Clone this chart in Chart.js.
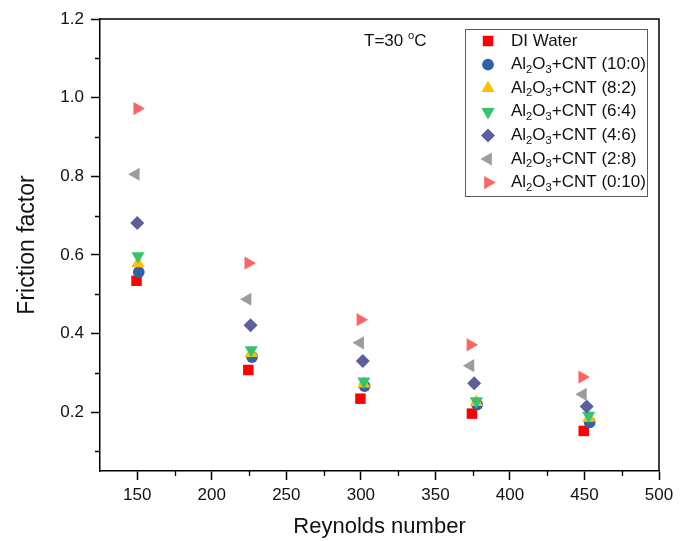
<!DOCTYPE html>
<html><head><meta charset="utf-8">
<script src="https://cdn.jsdelivr.net/npm/chart.js@4/dist/chart.umd.min.js"></script>
<style>html,body{margin:0;padding:0;background:#fff;}#wrap{width:691px;height:541px;}</style>
</head><body><div id="wrap"><canvas id="c" width="691" height="541"></canvas></div>
<script>
// ---- data ----
const reDI   = [149.5, 224.5, 299.7, 374.5, 449.5];
const fDI    = [0.534, 0.307, 0.234, 0.196, 0.152];
const re100  = [151.0, 227.0, 302.5, 378.0, 453.5];
const f100   = [0.556, 0.340, 0.266, 0.219, 0.174];
const re82   = [150.5, 226.5, 302.0, 377.5, 453.0];
const f82    = [0.578, 0.350, 0.272, 0.225, 0.185];
const re64   = [150.5, 226.5, 302.0, 377.5, 452.8];
const f64    = [0.597, 0.358, 0.278, 0.228, 0.191];
const re46   = [150.0, 226.0, 301.3, 376.0, 451.5];
const f46    = [0.681, 0.421, 0.330, 0.273, 0.214];
const re28   = [149.0, 224.0, 299.5, 373.5, 449.0];
const f28    = [0.805, 0.487, 0.376, 0.318, 0.245];
const re010  = [150.0, 224.5, 299.7, 373.5, 448.5];
const f010   = [0.972, 0.579, 0.435, 0.371, 0.289];

const seriesNames = ['DI Water', 'Al₂O₃+CNT (10:0)', 'Al₂O₃+CNT (8:2)', 'Al₂O₃+CNT (6:4)', 'Al₂O₃+CNT (4:6)', 'Al₂O₃+CNT (2:8)', 'Al₂O₃+CNT (0:10)'];
const ratioLabels = [null, '10:0', '8:2', '6:4', '4:6', '2:8', '0:10'];
const xTickValues = [150, 200, 250, 300, 350, 400, 450, 500];
const xMinorValues = [175, 225, 275, 325, 375, 425, 475];
const yTickValues = [0.2, 0.4, 0.6, 0.8, 1.0, 1.2];
const yMinorValues = [0.1, 0.3, 0.5, 0.7, 0.9, 1.1];
const xTitle = 'Reynolds number';
const yTitle = 'Friction factor';

// ---- styles ----
const colors = ['#ff0000', '#3063a5', '#ffc000', '#35c46c', '#5d5e9c', '#9c9c9c', '#ff6464'];
const styles = ['rect', 'circle', 'triangle', 'triangle', 'rectRot', 'triangle', 'triangle'];
const rotations = [0, 0, 0, 180, 0, 270, 90];
const radii = [7.4, 5.9, 7.6, 7.6, 7.0, 7.6, 7.6];
const FONT = '"Liberation Sans", Arial, Helvetica, sans-serif';

const xs = [reDI, re100, re82, re64, re46, re28, re010];
const ys = [fDI, f100, f82, f64, f46, f28, f010];
const datasets = xs.map((xa, i) => ({
  label: seriesNames[i],
  data: xa.map((x, j) => ({x: x, y: ys[i][j]})),
  backgroundColor: colors[i],
  borderColor: colors[i],
  borderWidth: 0,
  pointStyle: styles[i],
  pointRotation: rotations[i],
  pointRadius: radii[i],
  pointHoverRadius: radii[i],
  showLine: false,
  order: 10 - i
}));

function drawMarker(ctx, style, rot, x, y, r, color) {
  ctx.save();
  ctx.fillStyle = color; ctx.strokeStyle = color;
  if (Chart.helpers && Chart.helpers.drawPoint) {
    Chart.helpers.drawPoint(ctx, {pointStyle: style, rotation: rot, radius: r, borderWidth: 0}, x, y);
  } else {
    ctx.translate(x, y); ctx.rotate(rot * Math.PI / 180);
    ctx.beginPath();
    if (style === 'rect') { const s = r * Math.SQRT1_2; ctx.rect(-s, -s, 2 * s, 2 * s); }
    else if (style === 'circle') { ctx.arc(0, 0, r, 0, Math.PI * 2); }
    else if (style === 'rectRot') { ctx.moveTo(0, -r); ctx.lineTo(r, 0); ctx.lineTo(0, r); ctx.lineTo(-r, 0); ctx.closePath(); }
    else { for (let k = 0; k < 3; k++) { const a = k * 2 * Math.PI / 3; k ? ctx.lineTo(Math.sin(a) * r, -Math.cos(a) * r) : ctx.moveTo(Math.sin(a) * r, -Math.cos(a) * r); } ctx.closePath(); }
    ctx.fill();
  }
  ctx.restore();
}

function drawPieces(ctx, pieces, x, y, size) {
  pieces.forEach(p => {
    const t = p[0], k = p[1];
    const fs = k === 'n' ? size : size * 0.66;
    ctx.font = fs + 'px ' + FONT;
    const dy = k === 'sub' ? size * 0.3 : (k === 'sup' ? -size * 0.32 : 0);
    ctx.fillText(t, x, y + dy);
    x += ctx.measureText(t).width;
  });
  return x;
}

const decorPlugin = {
  id: 'decor',
  afterDatasetsDraw(chart) {
    const ctx = chart.ctx, a = chart.chartArea;
    const sx = chart.scales.x, sy = chart.scales.y;
    ctx.save();
    // frame (top/right)
    ctx.strokeStyle = '#000'; ctx.lineWidth = 1.5;
    ctx.beginPath();
    ctx.moveTo(a.left, a.top); ctx.lineTo(a.right, a.top); ctx.lineTo(a.right, a.bottom);
    ctx.stroke();
    // minor ticks
    ctx.lineWidth = 1.3;
    ctx.beginPath();
    xMinorValues.forEach(v => { const px = Math.round(sx.getPixelForValue(v)) + 0.5; ctx.moveTo(px, a.bottom); ctx.lineTo(px, a.bottom + 5); });
    yMinorValues.forEach(v => { const py = Math.round(sy.getPixelForValue(v)) + 0.5; ctx.moveTo(a.left, py); ctx.lineTo(a.left - 5, py); });
    ctx.stroke();

    // annotation text
    ctx.fillStyle = '#111'; ctx.textBaseline = 'middle'; ctx.textAlign = 'left';
    drawPieces(ctx, [['T=30 ', 'n'], ['o', 'sup'], ['C', 'n']], 364, 41, 17);

    // legend
    ctx.strokeStyle = '#5a5a5a'; ctx.lineWidth = 1;
    ctx.strokeRect(465.5, 29.5, 182, 167);
    chart.data.datasets.forEach((ds, i) => {
      const y = 41 + i * 23.6;
      drawMarker(ctx, ds.pointStyle, ds.pointRotation, 488, y, ds.pointRadius, ds.backgroundColor);
      ctx.fillStyle = '#111';
      if (ratioLabels[i] === null) {
        drawPieces(ctx, [[ds.label, 'n']], 511, y, 17);
      } else {
        drawPieces(ctx, [['Al', 'n'], ['2', 'sub'], ['O', 'n'], ['3', 'sub'], ['+CNT (' + ratioLabels[i] + ')', 'n']], 511, y, 17);
      }
    });
    ctx.restore();
  }
};

new Chart(document.getElementById('c'), {
  type: 'scatter',
  data: {datasets: datasets},
  options: {
    responsive: false,
    animation: false,
    devicePixelRatio: 1,
    layout: {padding: {top: 19, right: 32, left: 0, bottom: 0}},
    plugins: {legend: {display: false}, tooltip: {enabled: false}},
    scales: {
      x: {
        type: 'linear', min: 125, max: 500,
        afterBuildTicks: s => { s.ticks = xTickValues.map(v => ({value: v})); },
        afterFit: s => { s.height = 70; },
        ticks: {color: '#111', font: {size: 17, family: FONT}, padding: 5, maxRotation: 0, autoSkip: false, callback: v => String(v)},
        grid: {drawOnChartArea: false, drawTicks: true, tickLength: 9, tickColor: '#000', tickWidth: 1.5},
        border: {display: true, color: '#000', width: 1.5},
        title: {display: true, text: xTitle, color: '#111', font: {size: 22, family: FONT}, padding: {top: 4, bottom: 1}}
      },
      y: {
        type: 'linear', min: 0.05, max: 1.2,
        afterBuildTicks: s => { s.ticks = yTickValues.map(v => ({value: v})); },
        afterFit: s => { s.width = 100; },
        ticks: {color: '#111', font: {size: 17, family: FONT}, padding: 7, autoSkip: false, callback: v => Number(v).toFixed(1)},
        grid: {drawOnChartArea: false, drawTicks: true, tickLength: 9, tickColor: '#000', tickWidth: 1.5},
        border: {display: true, color: '#000', width: 1.5},
        title: {display: true, text: yTitle, color: '#111', font: {size: 23, family: FONT}, padding: {top: 14, bottom: 4}}
      }
    }
  },
  plugins: [decorPlugin]
});
</script>
</body></html>
